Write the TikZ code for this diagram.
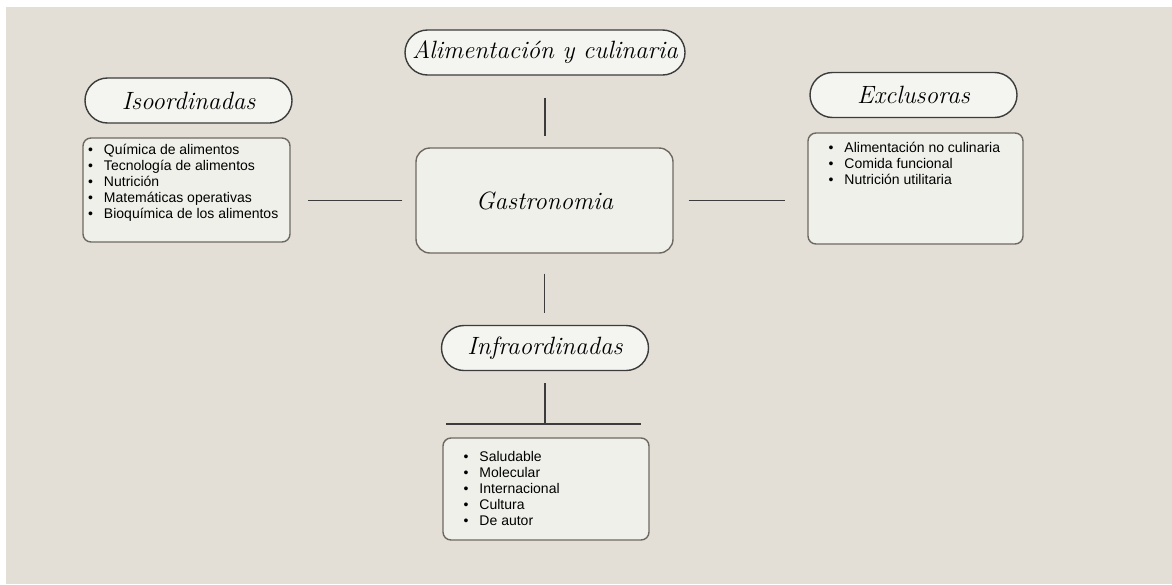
\documentclass[tikz,border=0pt]{standalone}
\usepackage{fontspec}
\setsansfont{Liberation Sans}
\usetikzlibrary{shapes.misc}

\definecolor{paper}{HTML}{E3DFD6}
\definecolor{boxfill}{HTML}{F0F0EB}
\definecolor{pillfill}{HTML}{F4F4F0}
\definecolor{edge}{HTML}{6E6861}
\definecolor{ink}{HTML}{3C3C3C}

\newcommand{\bul}{\makebox[16pt][l]{\textbullet}}

\begin{document}
\begin{tikzpicture}[x=1pt, y=-1pt]

% Define styles
\tikzstyle{pill} = [draw=ink, fill=pillfill, line width=1.4pt, rounded rectangle, minimum width=211pt, minimum height=45pt, inner sep=2pt, font=\fontsize{25}{28}\selectfont\itshape]
\tikzstyle{core} = [draw=edge, fill=boxfill, line width=1.4pt, rounded corners=14pt, minimum width=257pt, minimum height=105pt, font=\fontsize{25}{28}\selectfont\itshape]
\tikzstyle{listbox} = [draw=edge, fill=boxfill, line width=1.4pt, rounded corners=8pt, inner sep=0pt, font=\sffamily\fontsize{14}{16}\selectfont]
\tikzstyle{line} = [draw=ink, line width=1.2pt]

% Background
\useasboundingbox (0,0) rectangle (1172,584);
\fill[paper] (6,7) rectangle (1172,584);

% Centre and top
\node[core] (gastro) at (544.5,200.5) {Gastronomia};
\node[pill, minimum width=284pt] (culinaria) at (545,52.5) {Alimentación y culinaria};

% Left branch
\node[pill] (iso) at (188.5,100.5) {Isoordinadas};
\node[listbox] (isolist) at (186.5,190) {\parbox[c][104pt][t]{207pt}{\leftskip=5pt
  \vspace*{4.8pt}\strut\bul Química de alimentos\\
  \bul Tecnología de alimentos\\
  \bul Nutrición\\
  \bul Matemáticas operativas\\
  \bul Bioquímica de los alimentos}};

% Right branch
\node[pill] (excl) at (913.5,95) {Exclusoras};
\node[listbox] (excllist) at (915.5,188.5) {\parbox[c][111pt][t]{215pt}{\leftskip=20.5pt
  \vspace*{8.5pt}\strut\bul Alimentación no culinaria\\
  \bul Comida funcional\\
  \bul Nutrición utilitaria}};

% Bottom branch
\node[pill] (infra) at (545,348) {Infraordinadas};
\node[listbox] (infralist) at (546,489) {\parbox[c][102pt][t]{206pt}{\leftskip=20.5pt
  \vspace*{11.8pt}\strut\bul Saludable\\
  \bul Molecular\\
  \bul Internacional\\
  \bul Cultura\\
  \bul De autor}};
\coordinate (bar) at (545,424);
\coordinate (barL) at (446,424);
\coordinate (barR) at (641,424);

% Lines
\draw[line, shorten <=22pt, shorten >=11pt] (culinaria.south) -- (culinaria.south |- gastro.north);
\draw[line, shorten <=13pt, shorten >=17pt] (gastro.west) -- (gastro.west -| isolist.east);
\draw[line, shorten <=15pt, shorten >=22pt] (gastro.east) -- (gastro.east -| excllist.west);
\draw[line, shorten <=20pt, shorten >=12pt] (gastro.south) -- (gastro.south |- infra.north);
\draw[line, shorten <=12pt] (infra.south) -- (infra.south |- bar);
\draw[line] (barL) -- (barR);

\end{tikzpicture}
\end{document}
